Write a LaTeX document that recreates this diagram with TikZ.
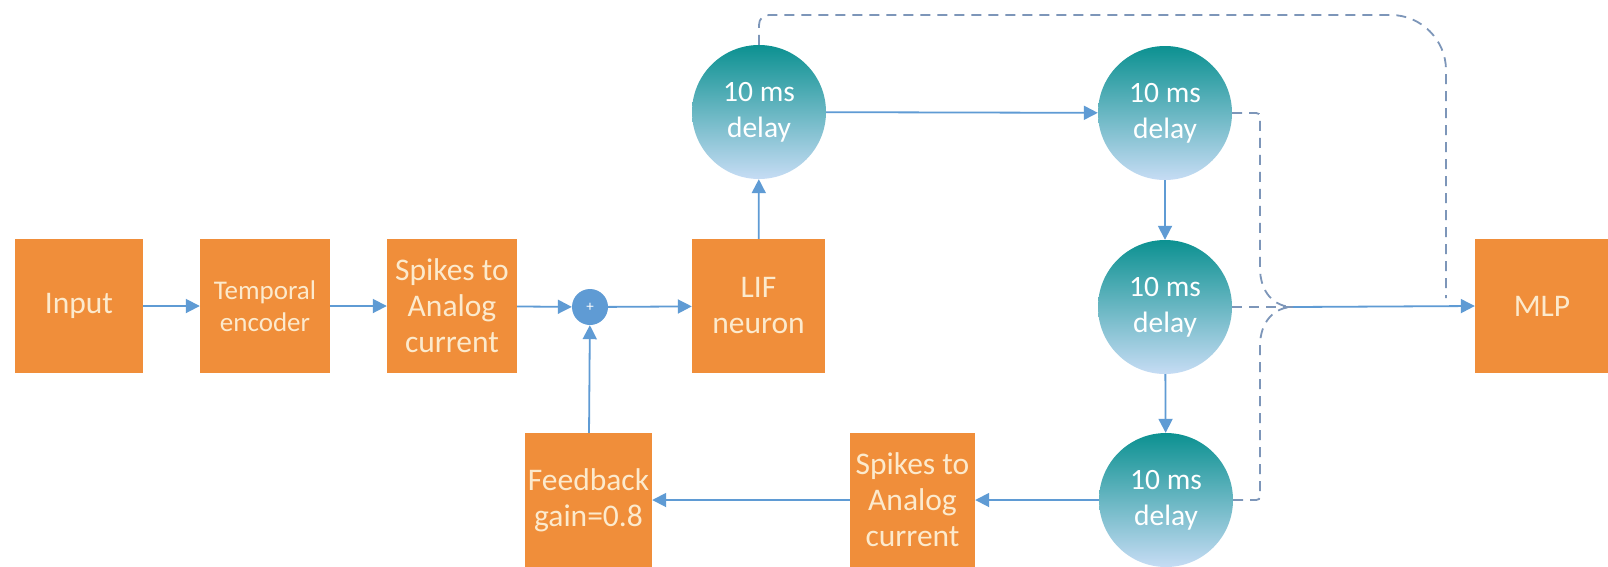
\documentclass[tikz,border=0pt]{standalone}
\usepackage{fontspec}
\setmainfont{Carlito}
\usetikzlibrary{arrows.meta,calc}
\definecolor{boxor}{RGB}{240,142,58}
\definecolor{boxtxt}{RGB}{252,234,205}
\definecolor{arrblue}{RGB}{95,155,212}
\definecolor{dashc}{RGB}{125,150,185}
\definecolor{teal1}{RGB}{12,145,145}
\definecolor{lblue}{RGB}{198,220,244}
\tikzset{
  blk/.style={rectangle, fill=boxor, text=boxtxt, inner sep=0pt,
    minimum width=130pt, minimum height=134pt, align=center,
    font=\fontsize{31.5}{36}\selectfont},
  dly/.style={circle, shading=axis, top color=teal1, bottom color=lblue,
    text=white, inner sep=0pt, minimum size=134pt, align=center,
    font=\fontsize{29.5}{36}\selectfont},
  sumn/.style={circle, fill=arrblue, text=white, inner sep=0pt,
    minimum size=36pt, font=\fontsize{15}{15}\selectfont},
  arr/.style={draw=arrblue, line width=1.8pt,
    -{Triangle[length=14pt,width=14pt]}},
  dsh/.style={draw=dashc, line width=1.8pt, dash pattern=on 10pt off 7pt},
  sol/.style={draw=arrblue, line width=1.8pt}
}
\begin{document}
\begin{tikzpicture}[x=1pt,y=-1pt]
\useasboundingbox (0,0) rectangle (1608,566);
\fill[white] (0,0) rectangle (1608,566);
% boxes
\node[blk, minimum width=128pt] (inp) at (79,306) {Input};
\node[blk, font=\fontsize{27}{32}\selectfont] (enc) at (265,306) {Temporal\\encoder};
\node[blk] (sa1) at (452,306) {Spikes to\\Analog\\current};
\node[sumn] (sum) at (590,307) {+};
\node[blk, minimum width=133pt] (lif) at (758.5,306) {LIF\\neuron};
\node[blk, minimum width=134pt] (mlp) at (1542,306) {MLP};
\node[blk, minimum width=127pt] (fb) at (588.5,500) {Feedback\\gain=0.8};
\node[blk, minimum width=125pt] (sa2) at (912.5,500) {Spikes to\\Analog\\current};
% delay circles
\node[dly] (d1) at (759,112) {10 ms\\delay};
\node[dly] (d2) at (1165,113) {10 ms\\delay};
\node[dly] (d3) at (1165,307) {10 ms\\delay};
\node[dly] (d4) at (1166,500) {10 ms\\delay};
% junction
\coordinate (j) at (1293,307);
\coordinate (tv) at (1446,298);
% forward chain
\draw[arr] (inp) -- (enc);
\draw[arr] (enc) -- (sa1);
\draw[arr] (sa1) -- (sum);
\draw[arr] (sum) -- (lif);
\draw[arr] (lif) -- (d1);
\draw[arr] (d1) -- (d2);
\draw[arr] (d2) -- (d3);
\draw[arr] (d3) -- (d4);
\draw[arr] (d4.west) -- (sa2.east |- d4.west);
\draw[arr] (sa2.west |- fb.east) -- (fb);
\draw[arr] (fb) -- (sum);
% dashed taps
\draw[dsh] (d1.north) -- (759,25) .. controls (759,19) and (763,15) .. (769,15) -- (1391,15) .. controls (1421,15) and (1446,40) .. (1446,70) -- (tv);
\draw[dsh] (d2.east) -- (1252,113) .. controls (1260,113) .. (1260,121) -- (1260,268) .. controls (1260,292) and (1274,307) .. (j);
\draw[dsh] (d3.east) -- (j);
\draw[dsh] (d4.east) -- (1252,500) .. controls (1260,500) .. (1260,492) -- (1260,346) .. controls (1260,322) and (1274,307) .. (j);
\draw[arr] (j) -- (mlp.west);
\end{tikzpicture}
\end{document}
